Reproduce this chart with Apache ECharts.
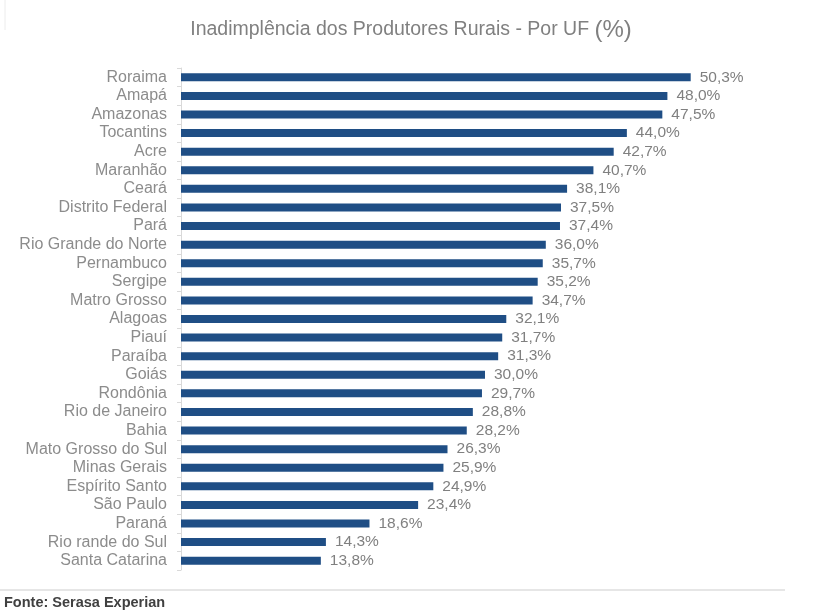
<!DOCTYPE html>
<html><head><meta charset="utf-8">
<script src="https://cdn.jsdelivr.net/npm/echarts@6/dist/echarts.min.js"></script>
<style>html,body{margin:0;padding:0;background:#fff}#c{width:822px;height:615px}</style>
</head><body><div id="c"></div>
<script>
const categories = ["Roraima","Amapá","Amazonas","Tocantins","Acre","Maranhão","Ceará","Distrito Federal","Pará","Rio Grande do Norte","Pernambuco","Sergipe","Matro Grosso","Alagoas","Piauí","Paraíba","Goiás","Rondônia","Rio de Janeiro","Bahia","Mato Grosso do Sul","Minas Gerais","Espírito Santo","São Paulo","Paraná","Rio rande do Sul","Santa Catarina"];
const values = [50.3,48.0,47.5,44.0,42.7,40.7,38.1,37.5,37.4,36.0,35.7,35.2,34.7,32.1,31.7,31.3,30.0,29.7,28.8,28.2,26.3,25.9,24.9,23.4,18.6,14.3,13.8];

const chart = echarts.init(document.getElementById('c'));
chart.setOption({
  animation:false,
  backgroundColor:'#fff',
  title:{
    text:'{a|Inadimplência dos Produtores Rurais - Por UF }{b|(%)}',
    left:'center', top:13,
    textStyle:{fontWeight:'normal',rich:{
      a:{fontFamily:'Liberation Sans, Arial',fontSize:19.5,fontWeight:'normal',color:'#808080'},
      b:{fontFamily:'Liberation Sans, Arial',fontSize:24,fontWeight:'normal',color:'#808080'}
    }}
  },
  grid:{left:181,right:33,top:68,bottom:45,containLabel:false},
  xAxis:{type:'value',min:0,max:60,show:false},
  yAxis:{type:'category',data:categories,inverse:true,
    axisLine:{show:true,lineStyle:{color:'#d9d9d9',width:1}},
    axisTick:{show:true,length:4,interval:0,lineStyle:{color:'#d9d9d9'}},
    axisLabel:{interval:0,hideOverlap:false,fontFamily:'Liberation Sans, Arial',fontSize:16,color:'#8c8c8c',margin:14}
  },
  series:[{type:'bar',data:values,barWidth:8,
    itemStyle:{color:'#1F4E85'},
    label:{show:true,position:'right',distance:9,fontFamily:'Liberation Sans, Arial',fontSize:15.5,color:'#808080',
      formatter:p=>p.value.toFixed(1).replace('.',',')+'%'}
  }],
  graphic:[
    {type:'line',shape:{x1:0,y1:590,x2:785,y2:590},style:{stroke:'#e6e6e6',lineWidth:2}},
    {type:'line',shape:{x1:5,y1:0,x2:5,y2:30},style:{stroke:'#ececec',lineWidth:1}},
    {type:'text',left:4,top:595,style:{text:'Fonte: Serasa Experian',font:'bold 14.5px Liberation Sans, Arial',fill:'#404040'}}
  ]
});
</script></body></html>
